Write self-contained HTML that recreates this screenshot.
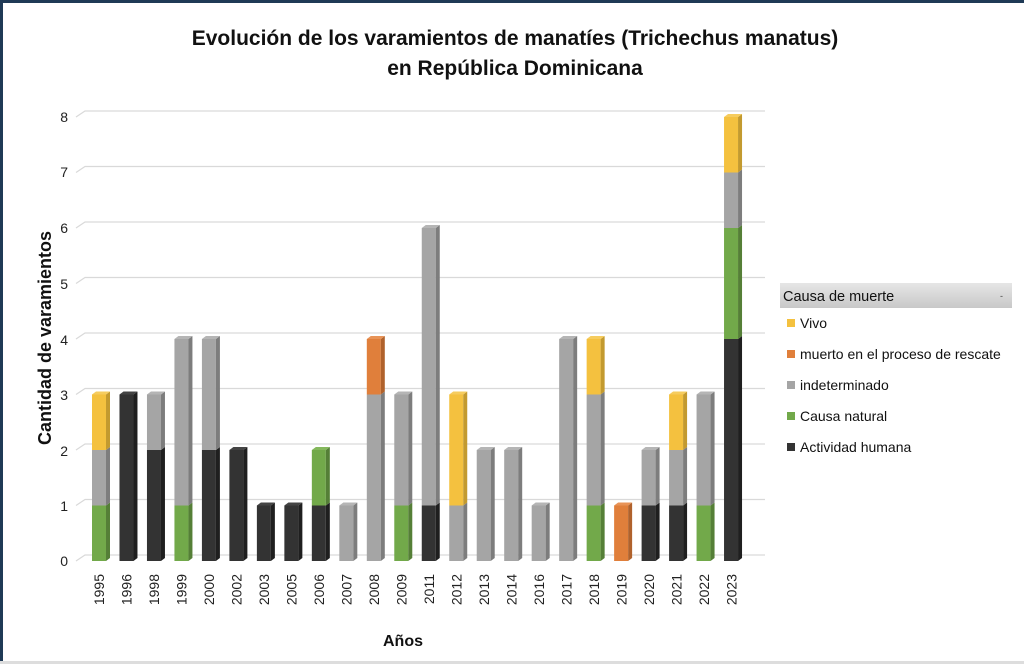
<!DOCTYPE html>
<html><head><meta charset="utf-8"><style>
body{margin:0;background:#fff}
#w{position:relative;width:1024px;height:664px;overflow:hidden;background:#fff}
svg text{font-family:"Liberation Sans",sans-serif}
</style></head><body><div id="w">
<svg width="1024" height="664" xmlns="http://www.w3.org/2000/svg">
<rect x="0" y="0" width="1024" height="664" fill="#fff"/>
<rect x="0" y="0" width="3" height="664" fill="#1f3a56"/>
<rect x="0" y="0" width="1024" height="3" fill="#1f3a56"/>
<rect x="0" y="661" width="1024" height="3" fill="#ddd"/>
<text x="515" y="45" text-anchor="middle" font-size="21" font-weight="bold" fill="#111">Evolución de los varamientos de manatíes (Trichechus manatus)</text>
<text x="515" y="75" text-anchor="middle" font-size="21" font-weight="bold" fill="#111">en República Dominicana</text>
<g id="grid" stroke="#d9d9d9" stroke-width="1.2" fill="none"></g>
<g id="bars"></g>
<g font-size="14" fill="#222" text-anchor="end">
<text x="68" y="566">0</text><text x="68" y="511">1</text><text x="68" y="456">2</text><text x="68" y="400">3</text><text x="68" y="345">4</text><text x="68" y="289">5</text><text x="68" y="233">6</text><text x="68" y="177">7</text><text x="68" y="122">8</text>
</g>
<text transform="translate(51,338) rotate(-90)" text-anchor="middle" font-size="18" font-weight="bold" fill="#111">Cantidad de varamientos</text>
<text x="403" y="646" text-anchor="middle" font-size="16" font-weight="bold" fill="#111">Años</text>
<g font-size="14" fill="#222" text-anchor="end">
<text transform="translate(104,574) rotate(-90)">1995</text>
<text transform="translate(131.5,574) rotate(-90)">1996</text>
<text transform="translate(159,574) rotate(-90)">1998</text>
<text transform="translate(186.5,574) rotate(-90)">1999</text>
<text transform="translate(214,574) rotate(-90)">2000</text>
<text transform="translate(241.5,574) rotate(-90)">2002</text>
<text transform="translate(269,574) rotate(-90)">2003</text>
<text transform="translate(296.5,574) rotate(-90)">2005</text>
<text transform="translate(324,574) rotate(-90)">2006</text>
<text transform="translate(351.5,574) rotate(-90)">2007</text>
<text transform="translate(379,574) rotate(-90)">2008</text>
<text transform="translate(406.5,574) rotate(-90)">2009</text>
<text transform="translate(434,574) rotate(-90)">2011</text>
<text transform="translate(461.5,574) rotate(-90)">2012</text>
<text transform="translate(489,574) rotate(-90)">2013</text>
<text transform="translate(516.5,574) rotate(-90)">2014</text>
<text transform="translate(544,574) rotate(-90)">2016</text>
<text transform="translate(571.5,574) rotate(-90)">2017</text>
<text transform="translate(599,574) rotate(-90)">2018</text>
<text transform="translate(626.5,574) rotate(-90)">2019</text>
<text transform="translate(654,574) rotate(-90)">2020</text>
<text transform="translate(681.5,574) rotate(-90)">2021</text>
<text transform="translate(709,574) rotate(-90)">2022</text>
<text transform="translate(736.5,574) rotate(-90)">2023</text>
</g>
<defs><linearGradient id="lg" x1="0" y1="0" x2="0" y2="1"><stop offset="0" stop-color="#e6e6e6"/><stop offset="1" stop-color="#c8c8c8"/></linearGradient></defs>
<rect x="780" y="283" width="232" height="25" fill="url(#lg)"/>
<text x="783" y="301" font-size="14.5" fill="#111">Causa de muerte</text>
<text x="1000" y="299" font-size="9" fill="#444">-</text>
<g font-size="14" fill="#111">
<rect x="787" y="319" width="8" height="8" fill="#f4c13f"/><text x="800" y="328">Vivo</text>
<rect x="787" y="350" width="8" height="8" fill="#e07f3b"/><text x="800" y="359">muerto en el proceso de rescate</text>
<rect x="787" y="381" width="8" height="8" fill="#a5a5a5"/><text x="800" y="390">indeterminado</text>
<rect x="787" y="412" width="8" height="8" fill="#72a94a"/><text x="800" y="421">Causa natural</text>
<rect x="787" y="443" width="8" height="8" fill="#333"/><text x="800" y="452">Actividad humana</text>
</g>
</svg>
<script>
(function(){
var NS="http://www.w3.org/2000/svg";
var g=document.getElementById('grid'),b=document.getElementById('bars');
function el(p,t,a){var e=document.createElementNS(NS,t);for(var k in a)e.setAttribute(k,a[k]);p.appendChild(e);return e;}
var base=561,u=55.5,dx=9,dy=6;
for(var i=0;i<=8;i++){var y=base-i*u;el(g,'polyline',{points:'76,'+y+' '+(76+dx)+','+(y-dy)+' 765,'+(y-dy)});}
var C=[['#333333','#1f1f1f','#444'],['#72a94a','#557f37','#84b85c'],['#a5a5a5','#7d7d7d','#b5b5b5'],['#e07f3b','#b0622c','#e89357'],['#f4c13f','#c39a2f','#f6cc5e']];
var D=[[0,1,1,0,1],[3,0,0,0,0],[2,0,1,0,0],[0,1,3,0,0],[2,0,2,0,0],[2,0,0,0,0],[1,0,0,0,0],[1,0,0,0,0],[1,1,0,0,0],[0,0,1,0,0],[0,0,3,1,0],[0,1,2,0,0],[1,0,5,0,0],[0,0,1,0,2],[0,0,2,0,0],[0,0,2,0,0],[0,0,1,0,0],[0,0,4,0,0],[0,1,2,0,1],[0,0,0,1,0],[1,0,1,0,0],[1,0,1,0,1],[0,1,2,0,0],[4,2,1,0,1]];
var w=14,sd=4,st=3;
D.forEach(function(d,i){var cx=99+i*27.48,x=cx-w/2,cum=0;
d.forEach(function(v,s){if(!v)return;var y1=base-cum*u,y2=base-(cum+v)*u;cum+=v;var c=C[s];
el(b,'rect',{x:x,y:y2,width:w,height:y1-y2,fill:c[0]});
el(b,'polygon',{points:(x+w)+','+y1+' '+(x+w+sd)+','+(y1-st)+' '+(x+w+sd)+','+(y2-st)+' '+(x+w)+','+y2,fill:c[1]});
});
var top=base-cum*u,tc=null;for(var s=4;s>=0;s--)if(d[s]){tc=C[s];break;}
el(b,'polygon',{points:x+','+top+' '+(x+sd)+','+(top-st)+' '+(x+w+sd)+','+(top-st)+' '+(x+w)+','+top,fill:tc[2]});
});
})();
</script>
</div></body></html>
